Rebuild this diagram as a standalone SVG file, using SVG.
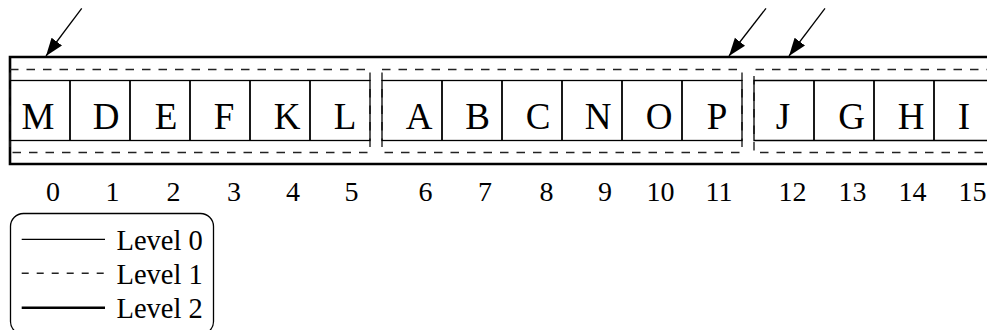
<svg xmlns="http://www.w3.org/2000/svg" width="987" height="330" viewBox="0 0 987 330">
<defs>
<style>
.l0{fill:none;stroke:#000;stroke-width:1.3}
.l1{fill:none;stroke:#222;stroke-width:1.4;stroke-dasharray:8.5 8}
.l2{fill:none;stroke:#000;stroke-width:2.6}
.div{stroke:#000;stroke-width:1.8}
.ch{font-family:"Liberation Serif","Times New Roman",serif;font-size:37px;text-anchor:middle;fill:#000}
.num{font-family:"Liberation Serif","Times New Roman",serif;font-size:28px;text-anchor:middle;fill:#000}
.lg{font-family:"Liberation Serif","Times New Roman",serif;font-size:28.5px;fill:#000}
.arr{stroke:#000;stroke-width:1.3;fill:none}
</style>
<marker id="ah" markerUnits="userSpaceOnUse" markerWidth="20" markerHeight="14" refX="18" refY="6.5" orient="auto">
<path d="M0,0 L18,6.5 L0,13 Z" fill="#000"/>
</marker>
</defs>
<rect width="987" height="330" fill="#fff"/>
<g id="level2">
<path class="l2" d="M995,57 H10 V164 H995"/>
</g>
<g id="group1">
<rect class="l1" x="10" y="69.5" width="360" height="83"/>
<rect class="l0" x="10" y="80.5" width="360" height="60"/>
<g class="div"><line x1="70" y1="80.5" x2="70" y2="140.5"/><line x1="130" y1="80.5" x2="130" y2="140.5"/><line x1="190" y1="80.5" x2="190" y2="140.5"/><line x1="250" y1="80.5" x2="250" y2="140.5"/><line x1="310" y1="80.5" x2="310" y2="140.5"/></g>
<text class="ch" x="38" y="128.5">M</text>
<text class="ch" x="106" y="128.5">D</text>
<text class="ch" x="166" y="128.5">E</text>
<text class="ch" x="224" y="128.5">F</text>
<text class="ch" x="287" y="128.5">K</text>
<text class="ch" x="345" y="128.5">L</text>
</g>
<g id="group2">
<rect class="l1" x="382" y="69.5" width="360" height="83"/>
<rect class="l0" x="382" y="80.5" width="360" height="60"/>
<g class="div"><line x1="442" y1="80.5" x2="442" y2="140.5"/><line x1="502" y1="80.5" x2="502" y2="140.5"/><line x1="562" y1="80.5" x2="562" y2="140.5"/><line x1="622" y1="80.5" x2="622" y2="140.5"/><line x1="682" y1="80.5" x2="682" y2="140.5"/></g>
<text class="ch" x="419" y="128.5">A</text>
<text class="ch" x="477.5" y="128.5">B</text>
<text class="ch" x="538" y="128.5">C</text>
<text class="ch" x="598" y="128.5">N</text>
<text class="ch" x="659" y="128.5">O</text>
<text class="ch" x="717" y="128.5">P</text>
</g>
<g id="group3">
<path class="l1" d="M995,69.5 H754 V152.5 H995"/>
<path class="l0" d="M995,80.5 H754 V140.5 H995"/>
<g class="div"><line x1="814" y1="80.5" x2="814" y2="140.5"/><line x1="874" y1="80.5" x2="874" y2="140.5"/><line x1="934" y1="80.5" x2="934" y2="140.5"/></g>
<text class="ch" x="783" y="128.5">J</text>
<text class="ch" x="851.5" y="128.5">G</text>
<text class="ch" x="911" y="128.5">H</text>
<text class="ch" x="964" y="128.5">I</text>
</g>
<g id="indices">
<text class="num" x="53" y="201">0</text>
<text class="num" x="112.5" y="201">1</text>
<text class="num" x="173.5" y="201">2</text>
<text class="num" x="234" y="201">3</text>
<text class="num" x="293" y="201">4</text>
<text class="num" x="351.5" y="201">5</text>
<text class="num" x="425.5" y="201">6</text>
<text class="num" x="485" y="201">7</text>
<text class="num" x="546.5" y="201">8</text>
<text class="num" x="605" y="201">9</text>
<text class="num" x="660.5" y="201">10</text>
<text class="num" x="719" y="201">11</text>
<text class="num" x="792.5" y="201">12</text>
<text class="num" x="852.5" y="201">13</text>
<text class="num" x="912.5" y="201">14</text>
<text class="num" x="972.5" y="201">15</text>
</g>
<g id="connectors">
<line class="arr" x1="81.7" y1="8.3" x2="46" y2="56" marker-end="url(#ah)"/>
<line class="arr" x1="766" y1="8.3" x2="729" y2="56" marker-end="url(#ah)"/>
<line class="arr" x1="825" y1="8.3" x2="789" y2="56" marker-end="url(#ah)"/>
</g>
<g id="legend">
<rect x="10.5" y="213.5" width="203" height="121" rx="13" ry="13" fill="none" stroke="#000" stroke-width="1.3"/>
<line class="l0" x1="21.7" y1="239.3" x2="105" y2="239.3"/>
<line class="l1" x1="21.7" y1="273.3" x2="105" y2="273.3" style="stroke-dasharray:7 8"/>
<line class="l2" x1="21.7" y1="307.7" x2="105" y2="307.7"/>
<text class="lg" x="116.5" y="250">Level 0</text>
<text class="lg" x="116.5" y="284">Level 1</text>
<text class="lg" x="116.5" y="318">Level 2</text>
</g>
</svg>
